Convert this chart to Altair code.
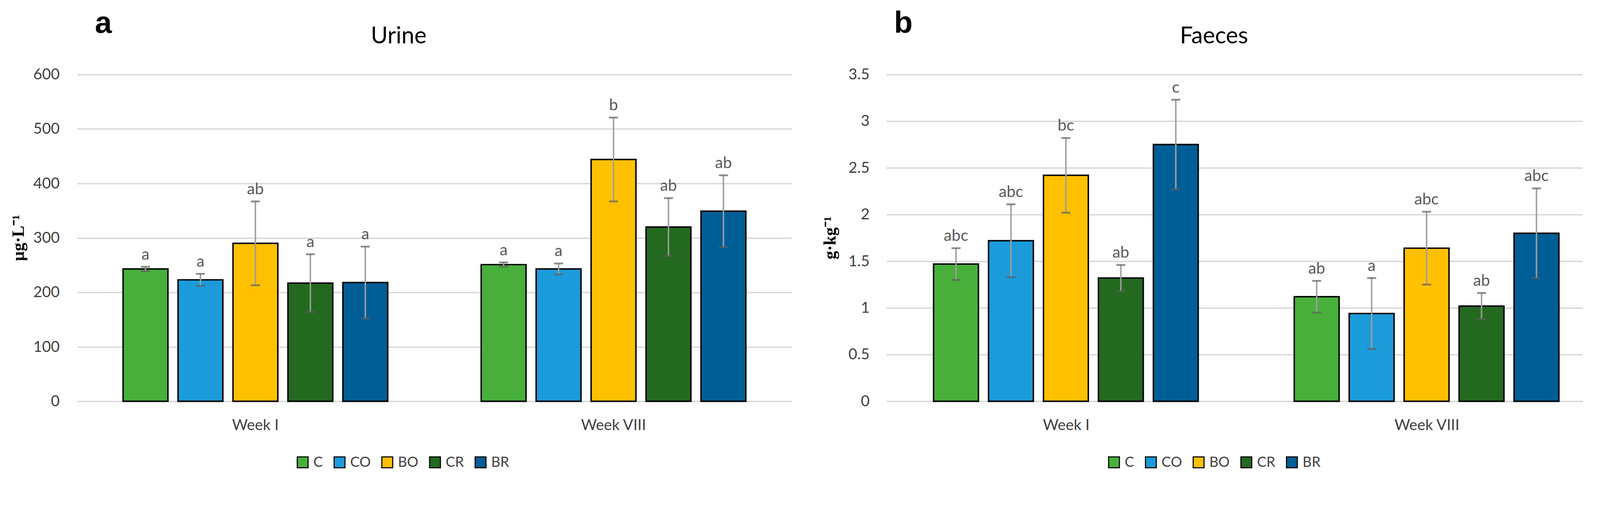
import altair as alt
import pandas as pd

FONT = "Lato"

weeks = ["Week I", "Week VIII"]
treatments = ["C", "CO", "BO", "CR", "BR"]
colors = ["#48B03A", "#1B9BDA", "#FFC000", "#23691F", "#005E96"]

# order: Week I (C, CO, BO, CR, BR), Week VIII (C, CO, BO, CR, BR)
urine_mean = [243, 223, 290, 217, 218, 251, 243, 444, 320, 349]
urine_err = [4, 11, 77, 53, 66, 4, 10, 77, 53, 66]
urine_labels = ["a", "a", "ab", "a", "a", "a", "a", "b", "ab", "ab"]

faeces_mean = [1.47, 1.72, 2.42, 1.32, 2.75, 1.12, 0.94, 1.64, 1.02, 1.80]
faeces_err = [0.17, 0.39, 0.40, 0.14, 0.48, 0.17, 0.38, 0.39, 0.14, 0.48]
faeces_labels = ["abc", "abc", "bc", "ab", "c", "ab", "a", "abc", "ab", "abc"]

urine_ticks = [0, 100, 200, 300, 400, 500, 600]
faeces_ticks = [0, 0.5, 1, 1.5, 2, 2.5, 3, 3.5]


def make_df(means, errs, labels):
    rows = []
    i = 0
    for w in weeks:
        for t in treatments:
            rows.append({"week": w, "treatment": t, "mean": means[i],
                         "lo": means[i] - errs[i], "hi": means[i] + errs[i],
                         "label": labels[i]})
            i += 1
    return pd.DataFrame(rows)


def panel(df, ymax, ticks, ytitle, title, letter, width, xscale,
          title_x, letter_x, legend_x, ytitle_x, ylabel_pad):
    x = alt.X("week:N", sort=weeks, title=None, scale=xscale,
              axis=alt.Axis(labelFont=FONT, labelFontSize=42, labelColor="#404040",
                            labelPadding=46, ticks=False, domain=False, grid=False,
                            labelAngle=0, labelLimit=0))
    xo = alt.XOffset("treatment:N", sort=treatments,
                     scale=alt.Scale(paddingInner=0.184, paddingOuter=0))
    yscale = alt.Scale(domain=[0, ymax], nice=False, zero=True)
    y = alt.Y("mean:Q", scale=yscale, title=ytitle,
              axis=alt.Axis(values=ticks, labelExpr="datum.value", labelFont=FONT,
                            labelFontSize=42, labelColor="#404040",
                            labelPadding=ylabel_pad, ticks=False, domain=False,
                            gridColor="#D9D9D9", gridWidth=4,
                            titleFont="Liberation Serif", titleFontSize=47,
                            titleFontWeight="bold", titleColor="#000000",
                            titleAngle=270, titleX=ytitle_x, titleY=451,
                            titleAlign="center", titleBaseline="middle"))
    base = alt.Chart(df)
    bars = base.mark_bar(stroke="black", strokeWidth=4).encode(
        x=x, xOffset=xo, y=y,
        color=alt.Color("treatment:N", sort=treatments,
                        scale=alt.Scale(domain=treatments, range=colors),
                        legend=alt.Legend(orient="none", legendX=legend_x, legendY=1052,
                                          direction="horizontal", title=None,
                                          symbolType="square", symbolSize=900,
                                          symbolStrokeColor="black", symbolStrokeWidth=3,
                                          symbolOpacity=1,
                                          labelFont=FONT, labelFontSize=39,
                                          labelColor="#404040", labelOffset=10,
                                          columnPadding=24)))
    rule = base.mark_rule(color="#9E9E9E", strokeWidth=4).encode(
        x=x, xOffset=xo, y=alt.Y("lo:Q", scale=yscale), y2="hi:Q")
    cap_hi = base.mark_tick(color="#5E5E5E", thickness=5, size=25).encode(
        x=x, xOffset=xo, y=alt.Y("hi:Q", scale=yscale))
    cap_lo = base.mark_tick(color="#5E5E5E", thickness=5, size=25).encode(
        x=x, xOffset=xo, y=alt.Y("lo:Q", scale=yscale))
    sig = base.mark_text(font=FONT, fontSize=44, color="#595959",
                         baseline="alphabetic", dy=-20).encode(
        x=x, xOffset=xo, y=alt.Y("hi:Q", scale=yscale), text="label:N")
    ttl = alt.Chart(pd.DataFrame({"t": [title]})).mark_text(
        font=FONT, fontSize=64, color="#000000", baseline="middle", align="center").encode(
        text="t:N", x=alt.value(title_x), y=alt.value(-105))
    let = alt.Chart(pd.DataFrame({"t": [letter]})).mark_text(
        font="Liberation Sans", fontWeight="bold", fontSize=84, color="#000000",
        baseline="alphabetic", align="left").encode(
        text="t:N", x=alt.value(letter_x), y=alt.value(-115))
    return alt.layer(bars, rule, cap_hi, cap_lo, sig, ttl, let).properties(
        width=width, height=903)


urine_df = make_df(urine_mean, urine_err, urine_labels)
faeces_df = make_df(faeces_mean, faeces_err, faeces_labels)

left = panel(urine_df, 600, urine_ticks, "µg·L⁻¹", "Urine", "a", 1976,
             alt.Scale(paddingInner=0.261, paddingOuter=0.128),
             title_x=889, letter_x=49, legend_x=604, ytitle_x=-162, ylabel_pad=49)
right = panel(faeces_df, 3.5, faeces_ticks, "g·kg⁻¹", "Faeces", "b", 1925,
              alt.Scale(paddingInner=0.2643, paddingOuter=0.097, align=0.674),
              title_x=906, letter_x=21, legend_x=610, ytitle_x=-155, ylabel_pad=47)

chart = alt.hconcat(left, right, spacing=262, bounds="flush").resolve_scale(
    color="independent", y="independent").properties(
    padding={"left": 19, "top": -35, "right": 40, "bottom": 10},
    background="white").configure_view(stroke=None)

chart.save("out.html", embed_options={"renderer": "svg", "actions": False})
